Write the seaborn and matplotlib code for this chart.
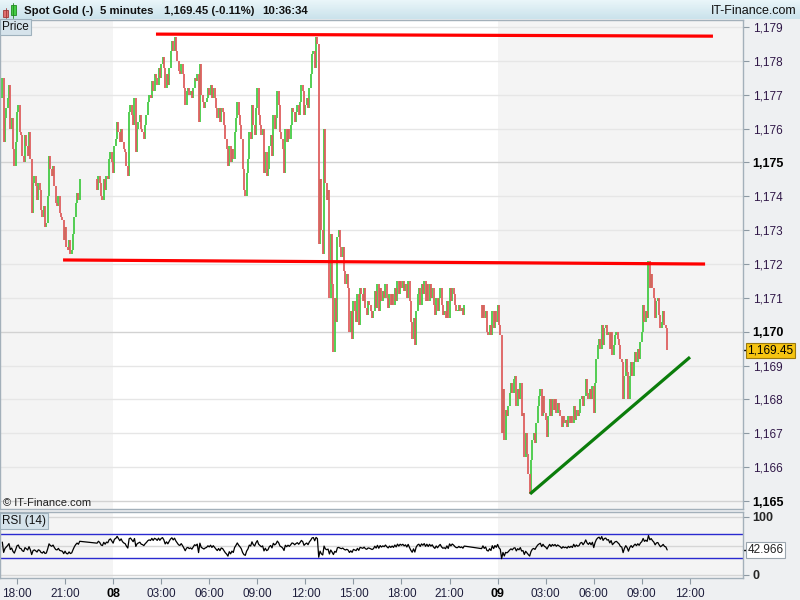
import numpy as np
import matplotlib
matplotlib.use('Agg')
import matplotlib.pyplot as plt
import matplotlib.transforms as mtransforms
from matplotlib.patches import Rectangle
import seaborn as sns

# 5-minute closes, bar number 0 = 18:00 on the 7th (12 bars per hour)
open_ref = 1176.9
closes_07 = [  # 17:05 - 21:55
    1177.5, 1175.6, 1176.3, 1176.6, 1176.9, 1177.3, 1176.0, 1176.3, 1175.4, 1174.9, 1175.6,
    1176.5, 1176.7, 1175.9, 1175.8, 1175.2, 1175.0, 1175.8, 1175.5, 1175.2, 1175.9, 1175.1, 1173.5,
    1174.4, 1174.6, 1174.3, 1173.9, 1174.4, 1174.2, 1173.6, 1173.4, 1173.7, 1173.1, 1173.2, 1174.0,
    1175.2, 1174.8, 1174.6, 1174.9, 1174.3, 1173.8, 1173.7, 1174.0, 1173.5, 1173.4, 1173.3, 1172.7,
    1173.1, 1172.5, 1172.4, 1172.7, 1172.3, 1172.4, 1172.9, 1173.4, 1173.8, 1174.1, 1173.9, 1174.5,
]
closes_08 = [  # 23:00 on the 7th - 21:55 on the 8th
    1174.2, 1174.6, 1174.4, 1174.0, 1173.9, 1174.5, 1174.2, 1174.6, 1174.5, 1175.1, 1175.3, 1175.0,
    1174.7, 1175.5, 1175.7, 1176.2, 1175.9, 1175.6, 1176.0, 1175.6, 1175.4, 1175.3, 1174.9, 1174.6,
    1176.5, 1176.7, 1176.4, 1176.1, 1176.9, 1175.3, 1176.0, 1176.2, 1176.4, 1176.0, 1175.9, 1175.7,
    1176.1, 1176.4, 1176.8, 1177.0, 1176.9, 1177.4, 1177.1, 1177.6, 1177.5, 1177.3, 1177.8, 1177.5,
    1177.9, 1178.1, 1177.8, 1177.2, 1177.6, 1177.3, 1177.8, 1178.3, 1178.6, 1178.3, 1178.7, 1178.3,
    1178.0, 1177.7, 1177.6, 1177.9, 1177.6, 1177.2, 1176.7, 1177.1, 1177.2, 1177.0, 1177.1, 1176.9,
    1177.2, 1177.5, 1177.4, 1177.6, 1176.2, 1177.9, 1177.0, 1176.8, 1176.6, 1176.8, 1176.9, 1177.2,
    1177.0, 1177.3, 1176.9, 1177.2, 1176.9, 1176.6, 1176.3, 1176.6, 1176.2, 1176.6, 1176.5, 1176.1,
    1175.7, 1175.4, 1174.9, 1175.5, 1175.0, 1175.4, 1175.1, 1175.9, 1176.3, 1176.8, 1176.4, 1176.1,
    1175.7, 1174.8, 1174.2, 1174.0, 1174.7, 1175.1, 1175.9, 1175.7, 1176.7, 1176.1, 1175.8, 1176.6,
    1177.2, 1176.4, 1176.1, 1175.8, 1176.0, 1174.7, 1175.3, 1174.6, 1174.8, 1175.5, 1175.8, 1175.2,
    1176.4, 1176.0, 1176.3, 1177.1, 1176.7, 1175.9, 1175.7, 1175.4, 1174.7, 1176.0, 1175.6, 1176.0,
    1175.7, 1176.1, 1176.6, 1176.5, 1176.2, 1176.5, 1176.7, 1176.4, 1176.8, 1177.3, 1177.1, 1176.4,
    1176.7, 1176.9, 1176.6, 1177.2, 1177.6, 1178.2, 1178.3, 1177.8, 1178.7, 1178.5, 1172.6, 1174.5,
    1173.0, 1172.3, 1176.0, 1174.4, 1173.9, 1174.2, 1171.0, 1172.9, 1171.4, 1169.4, 1171.0, 1170.3,
    1172.8, 1173.0, 1172.5, 1172.2, 1172.5, 1171.8, 1171.4, 1171.7, 1171.3, 1170.0, 1170.6, 1169.8,
    1170.9, 1170.6, 1170.3, 1171.1, 1170.2, 1171.3, 1171.1, 1170.9, 1171.3, 1170.7, 1170.5, 1170.9,
    1170.8, 1170.6, 1170.4, 1170.6, 1171.2, 1170.7, 1171.4, 1170.6, 1171.3, 1170.9, 1171.2, 1171.0,
    1171.4, 1171.0, 1170.7, 1171.1, 1170.8, 1171.1, 1170.8, 1171.3, 1170.9, 1171.5, 1171.1, 1171.5,
    1171.3, 1171.5, 1171.2, 1171.4, 1171.0, 1171.5, 1170.9, 1170.3, 1169.8, 1170.4, 1169.6, 1170.6,
    1171.1, 1171.3, 1170.8, 1171.4, 1171.1, 1171.5, 1170.9, 1171.4, 1170.9, 1171.4, 1171.0, 1171.3,
    1170.8, 1170.5, 1171.0, 1170.6, 1171.0, 1171.3, 1170.8, 1170.5, 1170.6, 1170.4, 1170.9, 1170.4,
    1171.3, 1170.9, 1171.3, 1171.1, 1170.8, 1170.6, 1170.6, 1170.8, 1170.6, 1170.7, 1170.5, 1170.8,
]
closes_09 = [  # 23:00 on the 8th - 10:35 on the 9th
    1170.4, 1170.8, 1170.4, 1170.6, 1170.0, 1169.9, 1170.2, 1169.9, 1170.6, 1170.1, 1170.6, 1170.3,
    1170.8, 1170.2, 1169.9, 1167.0, 1168.3, 1166.8, 1167.7, 1167.5, 1167.8, 1168.2, 1168.5, 1168.2,
    1168.6, 1168.7, 1167.8, 1168.3, 1168.0, 1168.5, 1167.5, 1167.6, 1166.3, 1167.0, 1166.4, 1165.8,
    1165.2, 1166.2, 1166.8, 1167.0, 1166.7, 1167.3, 1167.8, 1168.1, 1168.3, 1167.5, 1168.1, 1167.6,
    1167.4, 1166.9, 1167.5, 1168.0, 1167.5, 1168.0, 1167.7, 1168.0, 1167.6, 1167.9, 1167.7, 1167.5,
    1167.2, 1167.5, 1167.3, 1167.4, 1167.2, 1167.5, 1167.3, 1167.5, 1167.3, 1167.8, 1167.4, 1167.7,
    1167.5, 1167.6, 1168.0, 1168.1, 1167.8, 1168.1, 1168.6, 1168.2, 1168.0, 1168.3, 1168.0, 1168.4,
    1167.6, 1168.5, 1169.2, 1169.6, 1169.8, 1169.5, 1170.2, 1169.6, 1170.1, 1170.2, 1169.9, 1170.0,
    1169.5, 1170.0, 1169.3, 1169.6, 1169.9, 1170.0, 1169.8, 1169.6, 1169.2, 1169.1, 1168.0, 1168.7,
    1169.2, 1168.8, 1168.0, 1168.7, 1169.1, 1168.7, 1169.1, 1169.4, 1169.1, 1169.5, 1169.2, 1169.7,
    1170.0, 1170.8, 1170.3, 1170.6, 1170.4, 1172.1, 1171.3, 1171.7, 1171.3, 1171.0, 1170.4, 1170.9,
    1171.0, 1170.5, 1170.1, 1170.3, 1170.6, 1170.2, 1170.1, 1169.45,
]
segment_starts = [-11, 60, 348]   # market break 22:00-23:00 each day

tick_bars = [0, 36, 72, 108, 144, 180, 216, 252, 288, 324, 360, 396, 432, 468, 504]
tick_labels = ['18:00', '21:00', '08', '03:00', '06:00', '09:00', '12:00', '15:00',
               '18:00', '21:00', '09', '03:00', '06:00', '09:00', '12:00']
price_ticks = list(range(1165, 1180))

# hand-drawn trend lines: (bar0, price0, bar1, price1)
resistance_top = [104.1, 1178.79, 521.3, 1178.73]
resistance_mid = [34.5, 1172.12, 515.4, 1172.00]
support_line = [384.3, 1165.21, 504.1, 1169.25]

last_price = 1169.45
last_rsi = 42.966

segs = [closes_07, closes_08, closes_09]
closes = np.concatenate([np.array(s) for s in segs])
xs = np.concatenate([np.arange(st, st + len(s)) for st, s in zip(segment_starts, segs)])
opens = np.concatenate([[open_ref], closes[:-1]])

# RSI (14), Wilder smoothing
avg_g = avg_l = 0.15
rsi = []
for d in np.diff(np.concatenate([[open_ref], closes])):
    avg_g = (avg_g * 13 + max(d, 0)) / 14
    avg_l = (avg_l * 13 + max(-d, 0)) / 14
    rsi.append(100 - 100 / (1 + avg_g / avg_l))
rsi = np.array(rsi)

sns.set_theme(style='white')
plt.rcParams['font.family'] = ['Liberation Sans', 'DejaVu Sans']

GREEN = '#46cb46'
RED = '#de5f5f'
SHADE = '#f4f4f4'
EDGE = '#a3b0ba'

fig = plt.figure(figsize=(8, 6), dpi=100, facecolor='#eef0f2')
ax = fig.add_axes([0, 91 / 600, 743 / 800, 489 / 600])
axr = fig.add_axes([0, 22 / 600, 743 / 800, 66 / 600])

xlim = (-12.73, 543.8)
for a in (ax, axr):
    a.set_facecolor('white')
    a.set_xlim(*xlim)
    a.axvspan(xlim[0], 72, color=SHADE, zorder=0, lw=0)
    a.axvspan(360, xlim[1], color=SHADE, zorder=0, lw=0)
    for sp in a.spines.values():
        sp.set_color(EDGE)
        sp.set_linewidth(1)

# price panel
ax.set_ylim(1164.765, 1179.207)
for p in price_ticks:
    ax.axhline(p, color='#d2d2d2' if p % 5 == 0 else '#e6e6e6', lw=1, zorder=0.5)

up = closes >= opens
lo = np.minimum(opens, closes)
hi = np.maximum(np.maximum(opens, closes), lo + 0.05)
ax.vlines(xs[up], lo[up], hi[up], color=GREEN, lw=1.3, zorder=2)
ax.vlines(xs[~up], lo[~up], hi[~up], color=RED, lw=1.3, zorder=2)

for ln, col in [(resistance_top, '#ff0000'), (resistance_mid, '#ff0000'), (support_line, '#0b7d0b')]:
    ax.plot([ln[0], ln[2]], [ln[1], ln[3]], color=col, lw=2.3, solid_capstyle='butt', zorder=3)

ax.yaxis.tick_right()
ax.set_yticks(price_ticks)
ax.set_yticklabels([f'{p:,}' for p in price_ticks])
ax.set_xticks([])
ax.tick_params(axis='y', right=True, left=False, direction='out', length=4, width=0.8,
               color='#8d99a3', labelsize=8.5, pad=3)
for p, lab in zip(price_ticks, ax.get_yticklabels()):
    if p % 5 == 0:
        lab.set_fontweight('bold')
        lab.set_color('black')
        lab.set_fontsize(9)
    else:
        lab.set_color('#301848')

tr = mtransforms.blended_transform_factory(ax.transAxes, ax.transData)
ax.plot([1.0, 1.006], [last_price, last_price], color='black', lw=1, transform=tr, clip_on=False)
ax.text(1.006, last_price, f'{last_price:,.2f}', transform=tr, fontsize=8.5, va='center', ha='left',
        color='black', bbox=dict(boxstyle='square,pad=0.15', fc='#f6c411', ec='#9a7a10', lw=0.8))

# RSI panel
axr.set_ylim(-5.2, 108.6)
for lvl in (100, 50, 0):
    axr.axhline(lvl, color='#d6d6d6', lw=1, zorder=0.5)
for lvl in (70, 30):
    axr.axhline(lvl, color='#2a2ad0', lw=1, zorder=1)
axr.fill_between(xs, rsi, 30, where=rsi < 30, interpolate=True, color='#a9cba9', lw=0, zorder=1.5)
sns.lineplot(x=xs, y=rsi, ax=axr, color='black', linewidth=0.9, zorder=2)
axr.yaxis.tick_right()
axr.set_yticks([100, 0])
axr.set_yticklabels(['100', '0'], fontweight='bold', fontsize=9)
axr.set_xticks(tick_bars)
axr.set_xticklabels(tick_labels)
axr.tick_params(axis='y', right=True, left=False, direction='out', length=4, width=0.8,
                color='#8d99a3', pad=3)
axr.tick_params(axis='x', bottom=True, direction='out', length=4, width=0.8,
                color='#8d99a3', labelsize=8.5, pad=3, labelcolor='#1e1e3c')
for lab in axr.get_xticklabels():
    if lab.get_text() in ('08', '09'):
        lab.set_fontweight('bold')
        lab.set_color('black')
        lab.set_fontsize(9)
axr.set_xlabel('')
axr.set_ylabel('')
trr = mtransforms.blended_transform_factory(axr.transAxes, axr.transData)
axr.plot([1.0, 1.006], [last_rsi, last_rsi], color='black', lw=1, transform=trr, clip_on=False)
axr.text(1.006, last_rsi, f'{last_rsi:.3f}', transform=trr, fontsize=8.5, va='center', ha='left',
         color='#222222', bbox=dict(boxstyle='square,pad=0.15', fc='white', ec='#9aa5ae', lw=0.8))

# header bar
axh = fig.add_axes([0, 581 / 600, 1, 19 / 600])
grad = np.linspace(0, 1, 19).reshape(-1, 1)
axh.imshow(grad, aspect='auto', extent=(0, 800, 19, 0),
           cmap=matplotlib.colors.LinearSegmentedColormap.from_list('h', ['#e9f5f9', '#cbe3ec']))
axh.set_xlim(0, 800)
axh.set_ylim(19, 0)
axh.axis('off')
axh.add_patch(Rectangle((3.3, 10), 5, 6.7, fc='#e07070', ec='#a03a3a', lw=0.6))
axh.plot([5.8, 5.8], [7.5, 18.3], color='#a03a3a', lw=0.6)
axh.add_patch(Rectangle((10.7, 5), 5.3, 10, fc='#44cc44', ec='#228a22', lw=0.6))
axh.plot([13.3, 13.3], [2.7, 18], color='#228a22', lw=0.6)
for x0, txt in [(24, 'Spot Gold (-)'), (100, '5 minutes'), (164, '1,169.45 (-0.11%)'), (262, '10:36:34')]:
    axh.text(x0, 10.5, txt, fontsize=8.2, fontweight='bold', color='#111111', va='center', ha='left')
axh.text(796, 10.5, 'IT-Finance.com', fontsize=9, color='#111111', va='center', ha='right')

fig.text(2 / 800, 1 - 27 / 600, 'Price', fontsize=8.5, va='center', ha='left', color='#111111',
         bbox=dict(boxstyle='square,pad=0.2', fc='#d6e3eb', ec='#9fb1bd', lw=0.8))
fig.text(2 / 800, 1 - 521 / 600, 'RSI (14)', fontsize=8.5, va='center', ha='left', color='#111111',
         bbox=dict(boxstyle='square,pad=0.2', fc='#d6e3eb', ec='#9fb1bd', lw=0.8))
fig.text(3 / 800, 1 - 503 / 600, '\u00a9 IT-Finance.com', fontsize=8, va='center', ha='left', color='#222222')

fig.savefig('out.png', dpi=100, facecolor=fig.get_facecolor())
